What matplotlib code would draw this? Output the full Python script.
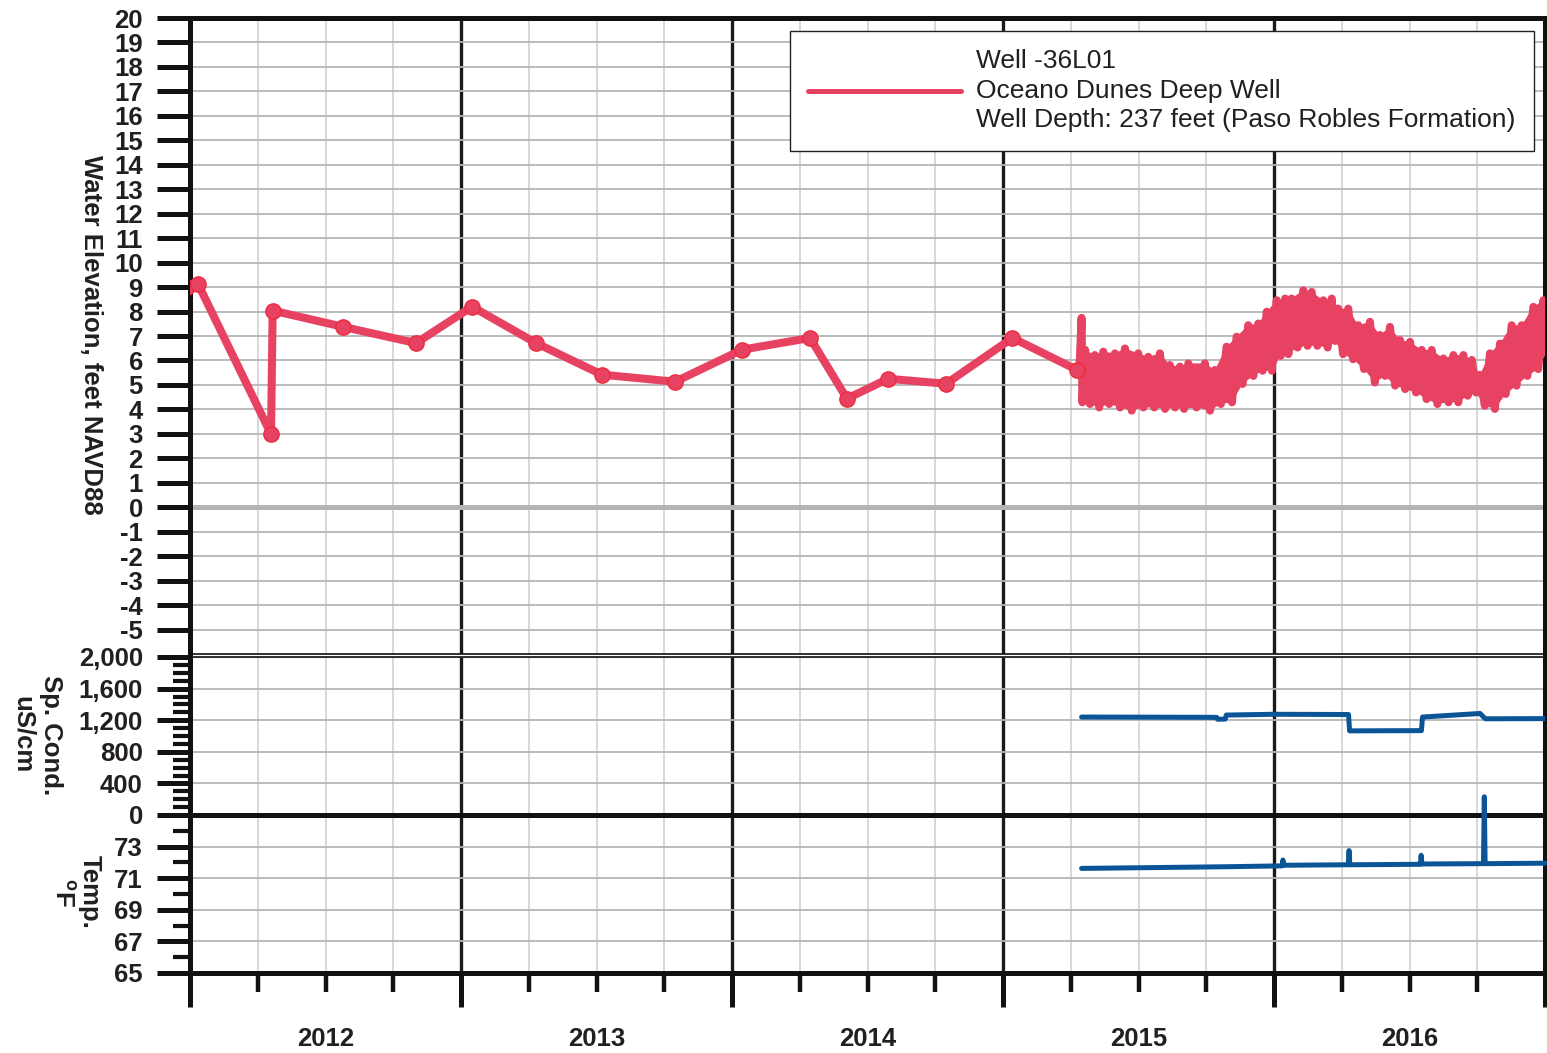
import numpy as np
import matplotlib
matplotlib.use('Agg')
import matplotlib.pyplot as plt
from matplotlib.lines import Line2D
from matplotlib.ticker import MultipleLocator, FixedLocator, FuncFormatter, NullFormatter

plt.rcParams['font.family'] = ['Liberation Sans', 'DejaVu Sans']
plt.rcParams['font.weight'] = 'bold'
plt.rcParams['axes.unicode_minus'] = False
plt.rcParams['mathtext.fontset'] = 'custom'
plt.rcParams['mathtext.rm'] = 'Liberation Sans'
plt.rcParams['mathtext.bf'] = 'Liberation Sans:bold'

TXT = '#231F20'
RED = '#E84263'
BLUE = '#0B5597'

# ---------------- data (decimal years) ----------------
# manual water-level measurements (ft NAVD88)
man_years = [2011.99, 2012.03, 2012.299, 2012.305, 2012.563, 2012.834, 2013.041,
             2013.277, 2013.52, 2013.79, 2014.037, 2014.288, 2014.424, 2014.576,
             2014.79, 2015.035, 2015.272]
man_levels = [9.0, 9.12, 2.99, 8.04, 7.38, 6.71, 8.2, 6.71, 5.42, 5.13, 6.44, 6.92,
              4.44, 5.25, 5.05, 6.92, 5.62]

# transducer record: oscillation peaks
peak_years = [2015.290, 2015.303, 2015.339, 2015.370, 2015.413, 2015.450, 2015.499,
              2015.536, 2015.579, 2015.616, 2015.653, 2015.684, 2015.745, 2015.782,
              2015.825, 2015.862, 2015.905, 2015.942, 2015.973, 2016.010, 2016.041,
              2016.065, 2016.108, 2016.139, 2016.182, 2016.213, 2016.237, 2016.274,
              2016.311, 2016.354, 2016.391, 2016.428, 2016.465, 2016.502, 2016.545,
              2016.582, 2016.625, 2016.662, 2016.699, 2016.730, 2016.760, 2016.797,
              2016.834, 2016.877, 2016.914, 2016.957, 2016.994]
peak_levels = [7.74, 6.43, 6.22, 6.36, 6.29, 6.49, 6.29,
               6.15, 6.29, 5.81, 5.75, 5.88, 5.88, 5.61,
               6.56, 6.97, 7.44, 7.51, 7.99, 8.46, 8.53,
               8.53, 8.87, 8.80, 8.46, 8.53, 8.12, 8.12,
               7.44, 7.58, 7.04, 7.37, 6.83, 6.76, 6.43,
               6.43, 6.08, 6.22, 6.22, 6.02, 5.41, 6.29,
               6.69, 7.44, 7.44, 8.19, 8.46]
# transducer record: oscillation troughs
trough_years = [2015.282, 2015.293, 2015.321, 2015.355, 2015.392, 2015.432, 2015.475,
                2015.518, 2015.558, 2015.598, 2015.635, 2015.668, 2015.714, 2015.764,
                2015.804, 2015.845, 2015.884, 2015.924, 2015.958, 2015.992, 2016.025,
                2016.053, 2016.087, 2016.124, 2016.160, 2016.198, 2016.225, 2016.255,
                2016.292, 2016.332, 2016.372, 2016.410, 2016.447, 2016.484, 2016.524,
                2016.563, 2016.603, 2016.644, 2016.680, 2016.715, 2016.745, 2016.778,
                2016.815, 2016.855, 2016.895, 2016.935, 2016.975, 2017.005]
trough_levels = [5.60, 4.29, 4.22, 4.08, 4.22, 4.08, 3.95,
                 4.08, 4.08, 4.02, 4.08, 4.02, 4.08, 3.95,
                 4.22, 4.29, 5.04, 5.37, 5.58, 5.58, 6.19,
                 6.26, 6.53, 6.60, 6.60, 6.53, 6.80, 6.26,
                 6.05, 5.65, 5.10, 5.37, 4.97, 4.83, 4.69,
                 4.42, 4.22, 4.29, 4.29, 4.56, 4.69, 4.15,
                 4.02, 4.63, 4.97, 5.37, 5.65, 6.32]

# specific conductance (uS/cm)
cond_years = [2015.290, 2015.60, 2015.788, 2015.792, 2015.820, 2015.824, 2016.0,
              2016.275, 2016.279, 2016.544, 2016.548, 2016.760, 2016.780, 2017.0]
cond_vals = [1240, 1238, 1236, 1212, 1214, 1265, 1275,
             1272, 1065, 1068, 1240, 1285, 1218, 1220]

# temperature (deg F)
temp_years = [2015.290, 2015.80, 2016.030, 2016.033, 2016.036, 2016.274, 2016.277,
              2016.280, 2016.540, 2016.543, 2016.546, 2016.773, 2016.776, 2016.779, 2017.0]
temp_vals = [71.62, 71.72, 71.78, 72.15, 71.82, 71.85, 72.75,
             71.85, 71.88, 72.45, 71.9, 71.92, 76.15, 71.92, 71.95]

year_ticks = [2012, 2013, 2014, 2015, 2016, 2017]
elev_ticks = list(range(-5, 21))
cond_ticks = [0, 400, 800, 1200, 1600, 2000]
temp_ticks = [65, 67, 69, 71, 73]
temp_minor = [66, 68, 70, 72, 74]

legend_label = "Well -36L01\nOceano Dunes Deep Well\nWell Depth: 237 feet (Paso Robles Formation)"

# ---------------- figure ----------------
W, H = 1547, 1053
fig = plt.figure(figsize=(W / 100, H / 100), dpi=100)


def ax_rect(x0, y0, x1, y1):
    return [x0 / W, 1 - y1 / H, (x1 - x0) / W, (y1 - y0) / H]


ax1 = fig.add_axes(ax_rect(190, 18, 1545, 654))
ax2 = fig.add_axes(ax_rect(190, 657, 1545, 815))
ax3 = fig.add_axes(ax_rect(190, 815, 1545, 973))

SP = '#111111'
for ax in (ax1, ax2, ax3):
    ax.set_xlim(2012, 2017)
    ax.set_axisbelow(True)
    ax.xaxis.set_major_locator(FixedLocator(year_ticks))
    ax.xaxis.set_minor_locator(MultipleLocator(0.25))
    ax.grid(which='minor', axis='x', color='#d2d2d2', lw=1.2)
    ax.grid(which='major', axis='x', color='#1a1a1a', lw=2.4)
    ax.grid(which='major', axis='y', color='#b5b5b5', lw=1.3)
    for s in ax.spines.values():
        s.set_color(SP)
        s.set_linewidth(3.6)
    ax.tick_params(axis='y', which='major', direction='out', length=24, width=3.6,
                   pad=10, labelsize=18.5, colors=SP, labelcolor=TXT)
    ax.tick_params(axis='y', which='minor', direction='out', length=12, width=3.0, colors=SP)
    ax.tick_params(axis='y', right=False, which='both')

for ax in (ax1, ax2):
    ax.tick_params(axis='x', which='both', bottom=False, labelbottom=False)

ax1.spines['bottom'].set_linewidth(1.2)
ax2.spines['top'].set_linewidth(1.2)
ax3.spines['top'].set_linewidth(3.6)

# top panel
ax1.set_ylim(-6, 20)
ax1.yaxis.set_major_locator(FixedLocator(elev_ticks))
ax1.axhline(0, color='#b4b4b4', lw=3.6, zorder=1.5)

# oscillating record: band between read peaks and troughs, plus zig-zag line
ax1.fill(list(peak_years) + list(trough_years[::-1]),
         list(peak_levels) + list(trough_levels[::-1]),
         color=RED, lw=0, zorder=3)
osc = sorted(zip(peak_years + trough_years, peak_levels + trough_levels))
ax1.plot([p[0] for p in osc], [p[1] for p in osc], color=RED, lw=5.8, zorder=3,
         solid_joinstyle='round', solid_capstyle='round')
ax1.plot(man_years, man_levels, color=RED, lw=5.8, marker='o', ms=11,
         mfc=RED, mec='#EE2B3B', mew=1.0, zorder=4, solid_joinstyle='round')

handle = Line2D([], [], color=RED, lw=3.6, solid_capstyle='round')
leg = ax1.legend([handle], [legend_label], loc='upper right',
                 bbox_to_anchor=(1534 / W, 1 - 31 / H), bbox_transform=fig.transFigure,
                 prop=dict(family=['Liberation Sans'], size=19, weight='normal'),
                 frameon=True, fancybox=False, framealpha=1, edgecolor='#222222',
                 borderpad=0.7, handlelength=5.8, handletextpad=0.57, borderaxespad=0)
leg.get_frame().set_linewidth(1.0)
for t in leg.get_texts():
    t.set_linespacing(1.29)
    t.set_color(TXT)

# middle panel
ax2.set_ylim(0, 2000)
ax2.yaxis.set_major_locator(FixedLocator(cond_ticks))
ax2.yaxis.set_minor_locator(MultipleLocator(100))
ax2.yaxis.set_major_formatter(FuncFormatter(lambda v, p: f'{v:,.0f}'))
ax2.plot(cond_years, cond_vals, color=BLUE, lw=3.6, solid_capstyle='round', zorder=3)

# bottom panel
ax3.set_ylim(65, 75)
ax3.yaxis.set_major_locator(FixedLocator(temp_ticks))
ax3.yaxis.set_minor_locator(FixedLocator(temp_minor))
ax3.plot(temp_years, temp_vals, color=BLUE, lw=3.6, solid_capstyle='round',
         clip_on=False, zorder=5)

ax3.xaxis.set_major_formatter(NullFormatter())
ax3.xaxis.set_minor_formatter(FuncFormatter(
    lambda v, p: str(int(np.floor(v))) if abs(v - np.floor(v) - 0.5) < 1e-6 else ''))
ax3.tick_params(axis='x', which='major', direction='out', length=24.5, width=3.6,
                colors=SP)
ax3.tick_params(axis='x', which='minor', direction='out', length=13.7, width=3.2,
                pad=25, labelsize=18.5, colors=SP, labelcolor=TXT)

# axis titles
fig.text(91 / W, 1 - 335 / H, 'Water Elevation, feet NAVD88', rotation=270,
         ha='center', va='center', fontsize=18.5, color=TXT)
fig.text(37 / W, 1 - 735 / H, 'Sp. Cond.\nuS/cm', rotation=270, ha='center',
         va='center', fontsize=18.5, color=TXT, multialignment='center', linespacing=1.25)
fig.text(76 / W, 1 - 892 / H, 'Temp.\n$^{\\mathbf{o}}$F', rotation=270, ha='center',
         va='center', fontsize=18.5, color=TXT, multialignment='center', linespacing=1.1)

fig.savefig('out.png', dpi=100)
